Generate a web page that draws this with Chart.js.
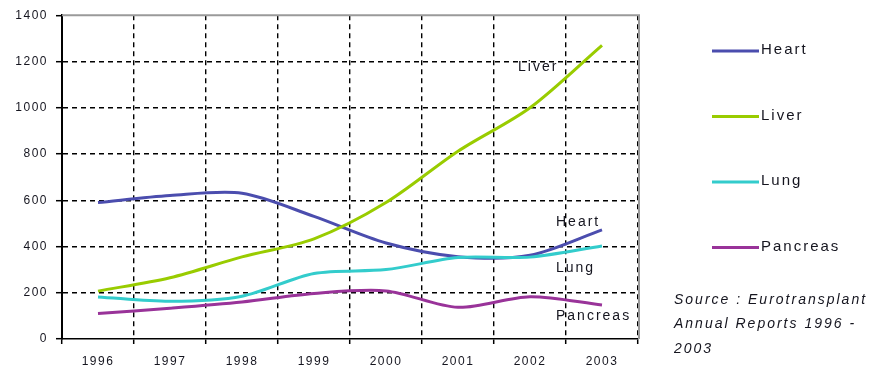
<!DOCTYPE html>
<html>
<head>
<meta charset="utf-8">
<script src="https://cdn.jsdelivr.net/npm/chart.js@4/dist/chart.umd.min.js"></script>
<style>
  html, body { margin: 0; padding: 0; background: #fff; }
  #wrap { width: 869px; height: 372px; position: relative; }
</style>
</head>
<body>
<div id="wrap"><canvas id="c" width="869" height="372"></canvas></div>
<script>
const years = ['1996', '1997', '1998', '1999', '2000', '2001', '2002', '2003'];
const heart = [590, 620, 630, 530, 415, 356, 362, 472];
const liver = [207, 265, 355, 433, 590, 812, 1000, 1270];
const lung = [182, 163, 185, 283, 300, 352, 354, 402];
const pancreas = [110, 133, 160, 197, 208, 137, 183, 147];
const yTicks = [0, 200, 400, 600, 800, 1000, 1200, 1400];
const seriesNames = ['Heart', 'Liver', 'Lung', 'Pancreas'];
const seriesColors = ['#4B4DAE', '#99CC00', '#33CCCC', '#993399'];
const sourceLines = ['Source : Eurotransplant', 'Annual Reports 1996 -', '2003'];

const FONT = "'Liberation Sans', Arial, sans-serif";
const TXT = '#15151f';

const spacingPlugin = {
  id: 'spacing',
  beforeUpdate(chart) { chart.ctx.letterSpacing = '1.5px'; },
  beforeDraw(chart) { chart.ctx.letterSpacing = '1.5px'; }
};

const overlayPlugin = {
  id: 'overlay',
  afterDraw(chart) {
    const ctx = chart.ctx;
    const a = chart.chartArea;
    const xs = chart.scales.x, ys = chart.scales.y;
    ctx.save();
    // grey frame top/right
    ctx.strokeStyle = '#9a9a9a';
    ctx.lineWidth = 2;
    ctx.beginPath();
    ctx.moveTo(a.left, a.top);
    ctx.lineTo(a.right + 1, a.top);
    ctx.lineTo(a.right + 1, a.bottom);
    ctx.stroke();

    // inline labels near line ends
    ctx.letterSpacing = '2px';
    ctx.font = '14px ' + FONT;
    ctx.fillStyle = TXT;
    ctx.textBaseline = 'middle';
    ctx.textAlign = 'left';
    const xEnd = xs.getPixelForValue(years.length - 1);
    const inl = [
      ['Liver', -84, 1175],
      ['Heart', -46, 505],
      ['Lung', -46, 307],
      ['Pancreas', -46, 99]
    ];
    inl.forEach(([t, dx, v]) => ctx.fillText(t, xEnd + dx, ys.getPixelForValue(v)));

    // legend
    ctx.font = '15px ' + FONT;
    seriesNames.forEach((name, i) => {
      const y = 51 + i * 65.5;
      ctx.strokeStyle = seriesColors[i];
      ctx.lineWidth = 3;
      ctx.beginPath();
      ctx.moveTo(712, y);
      ctx.lineTo(759, y);
      ctx.stroke();
      ctx.fillStyle = TXT;
      ctx.fillText(name, 761, y - 1);
    });

    // source note
    ctx.font = 'italic 14px ' + FONT;
    ctx.letterSpacing = '2px';
    ctx.fillStyle = TXT;
    sourceLines.forEach((t, i) => ctx.fillText(t, 674, 300 + i * 24.5));
    ctx.restore();
  }
};

const allSeries = [heart, liver, lung, pancreas];
const drawOrder = [4, 3, 2, 1];

new Chart(document.getElementById('c'), {
  type: 'line',
  data: {
    labels: years,
    datasets: allSeries.map((d, i) => ({
      label: seriesNames[i],
      data: d,
      order: drawOrder[i],
      borderColor: seriesColors[i],
      backgroundColor: seriesColors[i],
      borderWidth: 3,
      pointRadius: 0,
      tension: 0.3,
      fill: false
    }))
  },
  options: {
    responsive: false,
    animation: false,
    devicePixelRatio: 1,
    layout: { padding: { left: 0, top: 15, right: 231, bottom: 0 } },
    plugins: { legend: { display: false }, tooltip: { enabled: false } },
    scales: {
      x: {
        type: 'category',
        offset: true,
        grid: {
          offset: true,
          color: c => (c.index === 0 || c.index === years.length) ? 'rgba(0,0,0,0)' : '#000',
          lineWidth: 1.4,
          tickLength: 5,
          tickColor: '#000',
          tickWidth: 1.5,
          tickBorderDash: []
        },
        border: { color: '#000', width: 1.5, dash: [5, 4] },
        ticks: { padding: 10, color: TXT, font: { family: FONT, size: 12 }, maxRotation: 0 },
        afterFit: s => { s.height = 33; }
      },
      y: {
        min: 0,
        max: 1400,
        afterBuildTicks: s => { s.ticks = yTicks.map(v => ({ value: v })); },
        grid: {
          color: c => (c.tick && (c.tick.value === 0 || c.tick.value === 1400)) ? 'rgba(0,0,0,0)' : '#000',
          lineWidth: 1.4,
          tickLength: 6,
          tickColor: '#000',
          tickWidth: 1.5,
          tickBorderDash: []
        },
        border: { color: '#000', width: 2, dash: [5, 4] },
        ticks: { padding: 8, color: TXT, font: { family: FONT, size: 12 }, callback: v => String(v) },
        afterFit: s => { s.width = 62; }
      }
    }
  },
  plugins: [spacingPlugin, overlayPlugin]
});
</script>
</body>
</html>
